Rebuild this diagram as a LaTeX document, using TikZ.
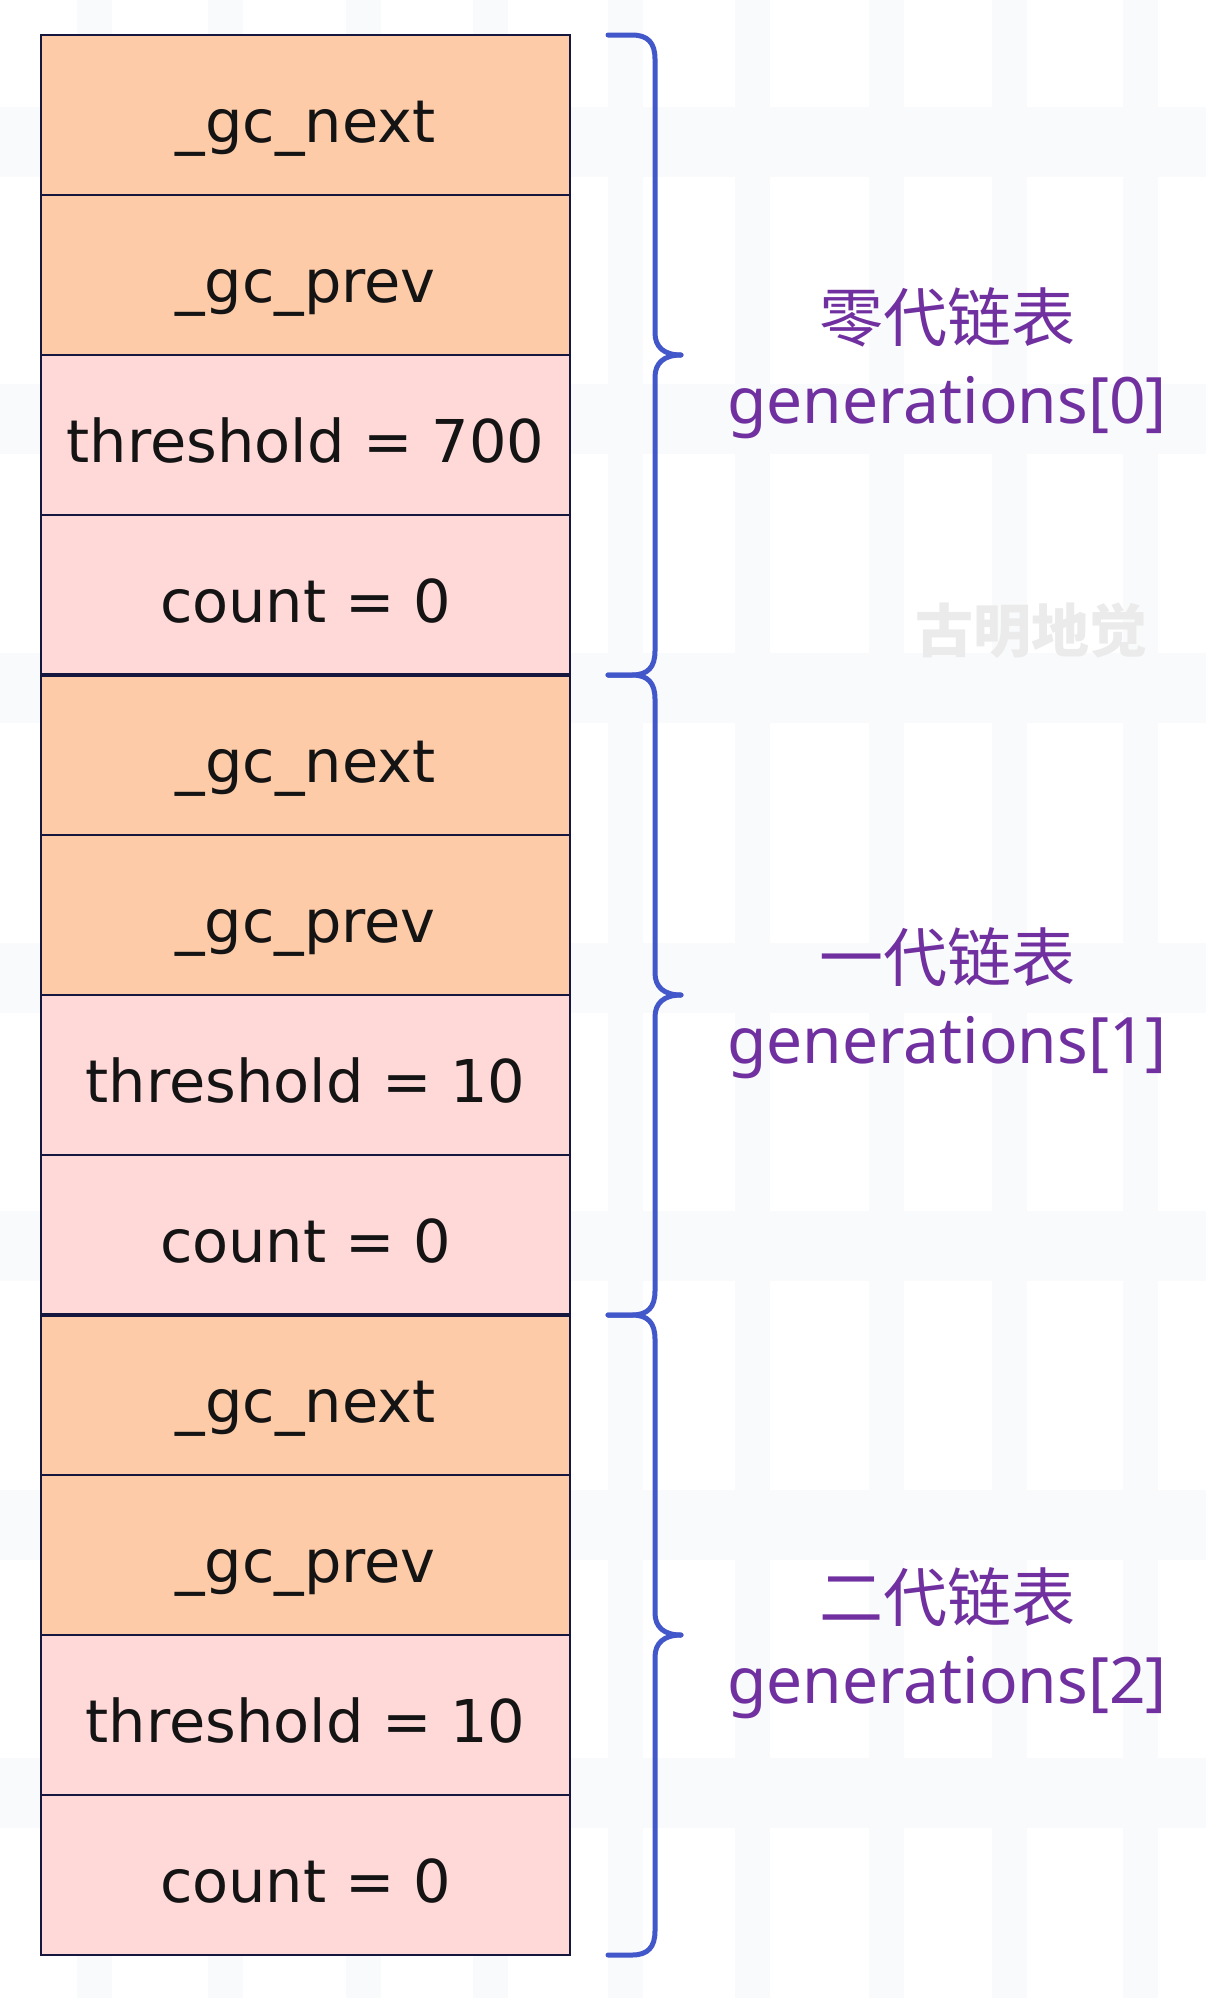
\documentclass[tikz,border=0pt]{standalone}
\usepackage{fontspec}
\setmainfont{DejaVu Sans}
\newfontfamily\cjk{Noto Sans CJK SC}
\newfontfamily\lab{Noto Sans}
\definecolor{peachcol}{HTML}{FDCBA8}
\definecolor{pinkcol}{HTML}{FFD8D8}
\definecolor{bordercol}{HTML}{16173F}
\definecolor{textcol}{HTML}{141414}
\definecolor{bracecol}{HTML}{4257C9}
\definecolor{labcol}{HTML}{7030A0}
\definecolor{wmcol}{HTML}{EBEBEB}
\definecolor{bandcol}{HTML}{F9FAFB}
\begin{document}
\begin{tikzpicture}[x=1pt,y=-1pt,
  row/.style={draw=bordercol, line width=2pt, minimum width=529pt, minimum height=160pt,
    inner sep=0pt, outer sep=0pt, text height=54pt, text depth=0pt,
    font=\fontsize{59}{70}\selectfont, text=textcol, anchor=center},
  peach/.style={row, fill=peachcol},
  pink/.style={row, fill=pinkcol},
  brace/.style={draw=bracecol, line width=5pt, line cap=round, line join=round},
  cn/.style={font=\cjk\fontsize{64}{70}\selectfont, text=labcol, anchor=base, inner sep=0pt},
  gen/.style={font=\lab\fontsize{64}{70}\selectfont, text=labcol, anchor=base, inner sep=0pt},
  band/.style={fill=bandcol, draw=none}]
\useasboundingbox (0,0) rectangle (1206,1998);
\fill[white] (0,0) rectangle (1206,1998);
\foreach \x in {77,208,346,473,608,735,869,992,1123} \fill[band] (\x,0) rectangle ++(35,1998);
\foreach \y in {107,384,653,943,1211,1490,1758} \fill[band] (0,\y) rectangle ++(1206,70);
% rows
\node[peach] (r1)  at (305.5,115)  {\_gc\_next};
\node[peach] (r2)  at (305.5,275)  {\_gc\_prev};
\node[pink]  (r3)  at (305.5,435)  {threshold = 700};
\node[pink]  (r4)  at (305.5,595)  {count = 0};
\node[peach] (r5)  at (305.5,755)  {\_gc\_next};
\node[peach] (r6)  at (305.5,915)  {\_gc\_prev};
\node[pink]  (r7)  at (305.5,1075) {threshold = 10};
\node[pink]  (r8)  at (305.5,1235) {count = 0};
\node[peach] (r9)  at (305.5,1395) {\_gc\_next};
\node[peach] (r10) at (305.5,1555) {\_gc\_prev};
\node[pink]  (r11) at (305.5,1715) {threshold = 10};
\node[pink]  (r12) at (305.5,1875) {count = 0};
\draw[bordercol, line width=4pt] (r4.south west) -- (r4.south east);
\draw[bordercol, line width=4pt] (r8.south west) -- (r8.south east);
\draw[bordercol, line width=2.5pt] (r1.north west) rectangle (r12.south east);
% braces
\foreach \T/\M/\B in {35/355/675, 675/995/1315, 1315/1635/1955}{
  \draw[brace] (608,\T) -- (632,\T) .. controls (648,\T) and (655,\T+8) .. (655,\T+24)
     -- (655,\M-22) .. controls (655,\M-8) and (664,\M) .. (681,\M);
  \draw[brace] (681,\M) .. controls (664,\M) and (655,\M+8) .. (655,\M+22)
     -- (655,\B-24) .. controls (655,\B-8) and (648,\B) .. (632,\B) -- (608,\B);
}
% labels
\node[cn]  (c0) at (947,341)  {零代链表};
\node[gen] (g0) at (947,423)  {generations[0]};
\node[cn]  (c1) at (947,981)  {一代链表};
\node[gen] (g1) at (947,1063) {generations[1]};
\node[cn]  (c2) at (947,1621) {二代链表};
\node[gen] (g2) at (947,1703) {generations[2]};
\node[font=\cjk\bfseries\fontsize{58}{60}\selectfont, text=wmcol, inner sep=0pt] (wm) at (1031,631) {古明地觉};
\end{tikzpicture}
\end{document}
